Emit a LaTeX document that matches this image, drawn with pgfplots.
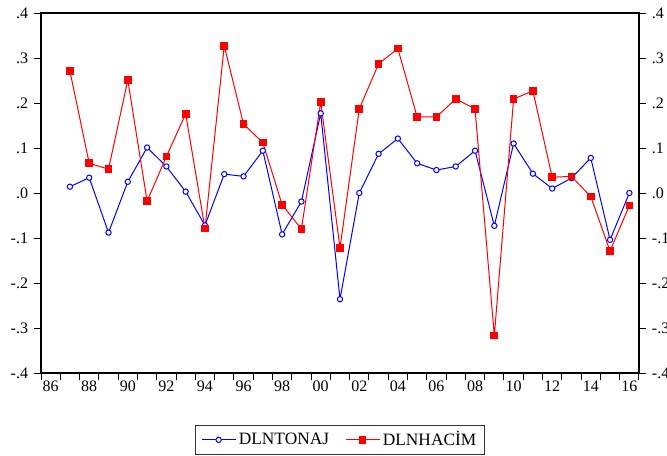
\documentclass[12pt,border=0pt]{standalone}
\usepackage{fontspec}
\setmainfont{Liberation Serif}
\usepackage{pgfplots}
\usepackage{pgfplotstable}
\pgfplotsset{compat=1.18}

% year, DLNTONAJ, DLNHACIM
\pgfplotstableread{
year ton hacim
1987 0.014 0.271
1988 0.034 0.066
1989 -0.088 0.053
1990 0.025 0.251
1991 0.101 -0.018
1992 0.059 0.081
1993 0.003 0.176
1994 -0.072 -0.079
1995 0.042 0.327
1996 0.037 0.153
1997 0.094 0.112
1998 -0.092 -0.026
1999 -0.019 -0.080
2000 0.177 0.202
2001 -0.236 -0.122
2002 0.000 0.187
2003 0.087 0.287
2004 0.121 0.321
2005 0.066 0.169
2006 0.051 0.169
2007 0.059 0.209
2008 0.094 0.187
2009 -0.073 -0.317
2010 0.110 0.209
2011 0.043 0.227
2012 0.010 0.035
2013 0.033 0.037
2014 0.078 -0.008
2015 -0.104 -0.129
2016 0.000 -0.028
}\datatable

\pgfplotsset{
  evstyle/.style={
    scale only axis,
    width=448.5pt, height=270pt,
    xmin=1986, xmax=2017,
    ymin=-0.4, ymax=0.4,
    axis line style={line width=0.8pt},
    tick style={black, line width=0.7pt},
    major tick length=5.5pt,
    tick align=outside,
    ytick={-0.4,-0.3,-0.2,-0.1,0,0.1,0.2,0.3,0.4},
    yticklabels={-.4,-.3,-.2,-.1,.0,.1,.2,.3,.4},
  }
}

\begin{document}
\begin{tikzpicture}
\useasboundingbox (-30.75pt,-61.5pt) rectangle (469.5pt,279.75pt);
\begin{axis}[
  evstyle,
  xtick pos=bottom, ytick pos=left,
  xtick={1986,...,2017},
  xticklabels={},
  extra x ticks={1986.5,1988.5,1990.5,1992.5,1994.5,1996.5,1998.5,2000.5,2002.5,2004.5,2006.5,2008.5,2010.5,2012.5,2014.5,2016.5},
  extra x tick labels={86,88,90,92,94,96,98,00,02,04,06,08,10,12,14,16},
  extra x tick style={major tick length=0pt, tick label style={yshift=-2pt}},
  legend columns=2,
  legend style={at={(0.5,-0.145)}, anchor=north, draw=black!80,
    font=\fontsize{13}{15}\selectfont,
    inner xsep=4pt, inner ysep=2.5pt,
    /tikz/every even column/.append style={column sep=10pt}},
  legend image code/.code={\draw[mark repeat=2,mark phase=2] plot coordinates {(0cm,0cm) (0.45cm,0cm) (0.9cm,0cm)};},
]
\addplot[blue, line width=0.75pt, mark=*, mark size=2pt, mark options={fill=white}]
  table[x expr=\thisrow{year}+0.5, y=ton] {\datatable};
\addlegendentry{DLNTONAJ}
\addplot[red, line width=0.75pt, mark=square*, mark size=2.5pt, mark options={fill=red}]
  table[x expr=\thisrow{year}+0.5, y=hacim] {\datatable};
\addlegendentry{DLNHACİM}
\end{axis}
\begin{axis}[
  evstyle,
  axis x line=none,
  axis y line*=right,
]
\end{axis}
\end{tikzpicture}
\end{document}
